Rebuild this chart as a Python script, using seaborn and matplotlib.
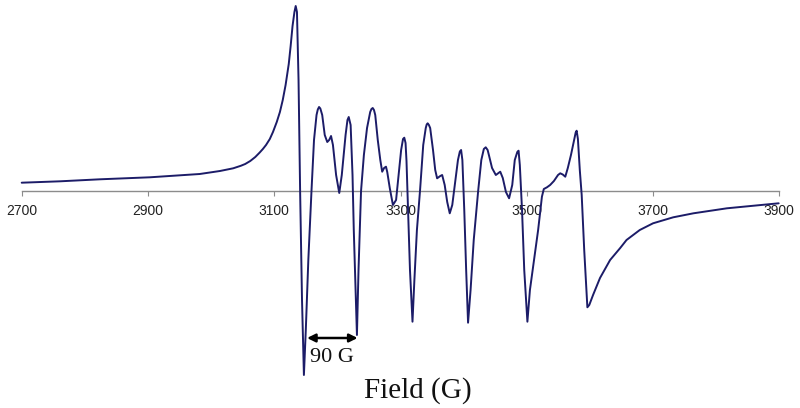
import matplotlib
matplotlib.use("Agg")
import matplotlib.pyplot as plt
import seaborn as sns
import pandas as pd

# Field (G) and first-derivative EPR signal (arbitrary units)
field = [2700, 2761, 2824, 2903, 2982, 3014, 3035, 3047, 3054, 3062,
         3070, 3077, 3082, 3087, 3093, 3098, 3104, 3109, 3113.5, 3118,
         3123, 3126, 3129, 3132, 3134, 3136, 3138.5,
         3141, 3144, 3147, 3150, 3154, 3159, 3163, 3167, 3169, 3171, 3173, 3176,
         3180, 3184, 3187, 3190, 3193, 3198, 3203, 3207, 3213, 3216,
         3218, 3221, 3224, 3226, 3231, 3233.5, 3237.5, 3242, 3247, 3252,
         3254, 3256, 3258, 3260, 3264, 3268, 3271, 3274, 3277, 3279, 3283, 3288,
         3293, 3297, 3301, 3304, 3306, 3308, 3309.5, 3311, 3315, 3319, 3322, 3326,
         3331, 3336, 3340, 3341.5, 3343, 3345, 3347, 3351.5, 3355, 3358, 3363, 3366,
         3370, 3374, 3378, 3382, 3386, 3391, 3394, 3396, 3398, 3401, 3404,
         3407, 3411, 3416, 3423, 3428, 3432, 3435, 3438, 3440, 3445, 3451, 3458,
         3462, 3467, 3472, 3477, 3481, 3485, 3487, 3489, 3492.5, 3496, 3501,
         3505, 3511.5, 3518, 3524, 3527, 3532, 3537, 3543, 3549.5, 3553,
         3557, 3561, 3565, 3570, 3575, 3577.5, 3579, 3581, 3584, 3587, 3591,
         3596, 3599, 3605, 3616, 3632, 3648, 3658, 3679, 3700, 3732, 3764,
         3817, 3870, 3899]
signal = [8.3, 9.7, 11.7, 13.7, 17, 20, 22.7, 25.2, 27, 30,
          34, 38.5, 42, 46, 52, 59, 69, 79, 91, 106,
          127, 145, 165, 179, 185, 179, 111,
          0, -109, -184, -139, -69, 0, 51, 76, 81.5, 84, 82.5, 76,
          56, 49, 51, 55, 46, 16, -2, 16, 56, 71,
          74, 66, 16, -39, -144, -79, 0, 36, 63, 79,
          82, 83, 81, 76, 51, 31, 19.3, 23, 24.3, 19, 3, -14,
          -9, 16, 41, 52, 53.3, 48, 30, 1, -79, -130.7, -89, -39,
          1, 46, 63, 66.5, 67.7, 66, 63, 41, 21, 12.7, 15, 16,
          6, -11, -22.3, -14, 6, 31, 39.5, 41, 31, -19, -79,
          -131.7, -99, -49, 0, 31, 42, 43.7, 41, 36, 23, 16, 19.3,
          13, -1, -7.3, 6, 31, 39, 40.3, 26, -19, -79, -130.7,
          -99, -69, -39, -5.7, 2, 3.7, 6, 10, 16, 17.7,
          16.5, 14.3, 23, 36, 51, 58.5, 60.3, 52, 21, -4, -59,
          -116.3, -114, -104, -87, -69, -57, -49, -39, -32.3, -26.3, -22.3,
          -17.3, -14, -12.3]

tick_values = [2700, 2900, 3100, 3300, 3500, 3700, 3900]
tick_labels = ["2700", "2900", "3100", "3300", "3500", "3700", "3900"]
x_label = "Field (G)"
split_label = "90 G"
split_start = 3152
split_end = 3232

df = pd.DataFrame({"field": field, "signal": signal})

sns.set_theme(style="white")
plt.rcParams["font.family"] = ["Liberation Sans", "DejaVu Sans"]

fig = plt.figure(figsize=(8, 4.08), dpi=100)
ax = fig.add_axes([21.7 / 800, 0.0, 757.6 / 800, 1.0])
ax.set_facecolor("none")

sns.lineplot(data=df, x="field", y="signal", sort=False, ax=ax,
             color="#1c1c68", linewidth=1.4, estimator=None)
for l in ax.lines:
    l.set_clip_on(False)
    l.set_solid_joinstyle("round")

ax.set_xlim(2700, 3900)
ax.set_ylim(-217, 191)

for s in ["top", "left", "right"]:
    ax.spines[s].set_visible(False)
ax.spines["bottom"].set_position(("data", 0))
ax.spines["bottom"].set_color("#8c8c8c")
ax.spines["bottom"].set_linewidth(1.0)
ax.spines["bottom"].set_zorder(0)

ax.set_xticks(tick_values)
ax.set_xticklabels(tick_labels)
ax.set_yticks([])
ax.tick_params(axis="x", direction="out", length=3.5, width=0.8,
               color="#8c8c8c", labelsize=10, labelcolor="#222222", pad=6,
               bottom=True)
ax.set_xlabel("")
ax.set_ylabel("")

ax.annotate("", xy=(split_start, -147), xytext=(split_end, -147),
            arrowprops=dict(arrowstyle="<|-|>", color="black", lw=1.8,
                            mutation_scale=12, shrinkA=0, shrinkB=0))
ax.text((split_start + split_end) / 2, -166, split_label, ha="center", va="center",
        fontsize=16, family=["Liberation Serif", "DejaVu Serif"], color="#111111")

fig.text(418 / 800, 1 - 398 / 408, x_label, ha="center", va="baseline",
         fontsize=21, family=["Liberation Serif", "DejaVu Serif"], color="#111111")

fig.savefig("out.png", dpi=100, facecolor="white")
